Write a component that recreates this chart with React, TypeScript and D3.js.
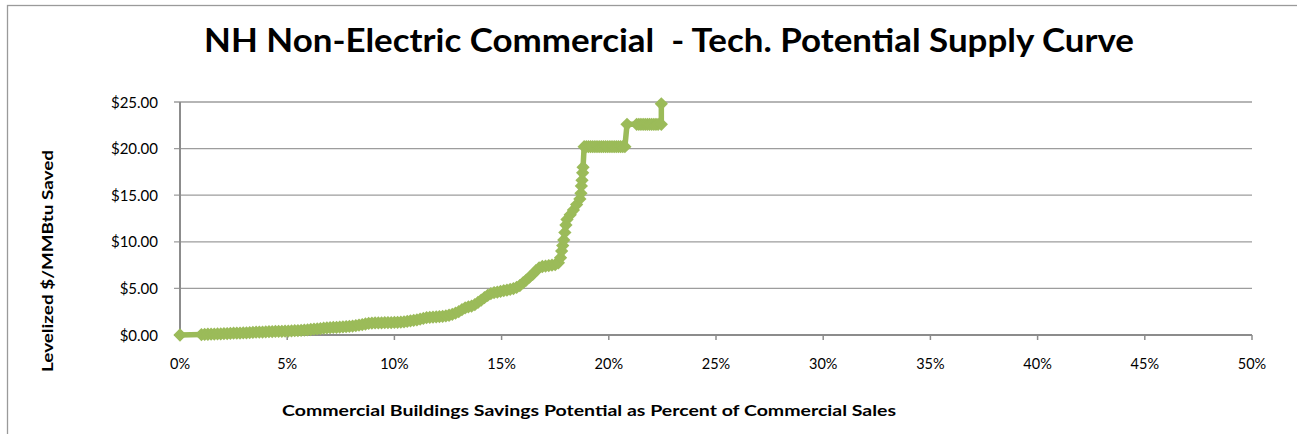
import React, { useEffect, useRef } from "react";
import * as d3 from "d3";

const TITLE = "NH Non-Electric Commercial  - Tech. Potential Supply Curve";
const Y_TITLE = "Levelized $/MMBtu Saved";
const X_TITLE = "Commercial Buildings Savings Potential as Percent of Commercial Sales";

const xTicks = [0, 5, 10, 15, 20, 25, 30, 35, 40, 45, 50];
const yTicks = [0, 5, 10, 15, 20, 25];

// savings potential (% of commercial sales)
const savingsPct = [
  0, 1.0, 1.15, 1.3, 1.45, 1.6, 1.75, 1.9, 2.05, 2.2, 2.35, 2.5, 2.65, 2.8, 2.95,
  3.1, 3.25, 3.4, 3.55, 3.7, 3.85, 4.0, 4.15, 4.3, 4.45, 4.6, 4.75, 4.9, 5.05,
  5.2, 5.35, 5.5, 5.65, 5.8, 5.95, 6.1, 6.25, 6.4, 6.55, 6.7, 6.85, 7.0, 7.15,
  7.3, 7.45, 7.6, 7.75, 7.9, 8.05, 8.2, 8.35, 8.5, 8.65, 8.8, 8.95, 9.1, 9.25,
  9.4, 9.55, 9.7, 9.85, 10.0, 10.15, 10.3, 10.45, 10.6, 10.75, 10.9, 11.05,
  11.2, 11.35, 11.5, 11.65, 11.8, 11.95, 12.1, 12.25, 12.4, 12.55, 12.7, 12.85,
  13.0, 13.15, 13.3, 13.45, 13.6, 13.75, 13.9, 14.05, 14.2, 14.35, 14.5, 14.65,
  14.8, 14.95, 15.1, 15.25, 15.4, 15.55, 15.7, 15.85, 16.0, 16.15, 16.3, 16.45,
  16.6, 16.75, 16.9, 17.05, 17.2, 17.35, 17.5, 17.65, 17.75, 17.8, 17.85, 17.9,
  17.95, 18.0, 18.05, 18.2, 18.35, 18.5, 18.65, 18.7, 18.72, 18.75, 18.78, 18.8,
  18.85, 18.95, 19.05, 19.15, 19.25, 19.35, 19.45, 19.55, 19.65, 19.75, 19.85,
  19.95, 20.05, 20.15, 20.25, 20.35, 20.45, 20.55, 20.65, 20.75, 20.85, 21.3,
  21.4, 21.5, 21.6, 21.7, 21.8, 21.9, 22.0, 22.1, 22.2, 22.3, 22.45, 22.45,
];

// levelized cost ($/MMBtu saved)
const levelizedCost = [
  0, 0.05, 0.06, 0.08, 0.09, 0.1, 0.11, 0.12, 0.14, 0.16, 0.17, 0.19, 0.2, 0.21,
  0.22, 0.24, 0.26, 0.28, 0.3, 0.31, 0.32, 0.34, 0.35, 0.37, 0.38, 0.39, 0.4,
  0.41, 0.42, 0.44, 0.46, 0.48, 0.5, 0.53, 0.56, 0.59, 0.62, 0.65, 0.69, 0.73,
  0.76, 0.79, 0.81, 0.83, 0.85, 0.88, 0.9, 0.93, 0.96, 1.0, 1.06, 1.12, 1.18,
  1.24, 1.28, 1.3, 1.3, 1.31, 1.32, 1.33, 1.34, 1.35, 1.36, 1.38, 1.42, 1.47,
  1.52, 1.57, 1.62, 1.7, 1.78, 1.86, 1.9, 1.93, 1.95, 1.98, 2.0, 2.05, 2.12,
  2.22, 2.35, 2.5, 2.72, 2.9, 3.02, 3.1, 3.25, 3.5, 3.75, 4.0, 4.25, 4.45, 4.55,
  4.6, 4.68, 4.75, 4.82, 4.9, 4.98, 5.1, 5.3, 5.6, 5.9, 6.2, 6.5, 6.9, 7.2,
  7.35, 7.4, 7.45, 7.5, 7.55, 7.75, 8.3, 9.0, 9.6, 10.2, 11.0, 11.8, 12.4, 12.9,
  13.4, 14.0, 14.6, 15.2, 16.0, 16.6, 17.4, 18.0, 20.2, 20.2, 20.2, 20.2, 20.2,
  20.2, 20.2, 20.2, 20.2, 20.2, 20.2, 20.2, 20.2, 20.2, 20.2, 20.2, 20.2, 20.2,
  20.2, 20.2, 22.6, 22.6, 22.6, 22.6, 22.6, 22.6, 22.6, 22.6, 22.6, 22.6, 22.6,
  22.6, 22.6, 24.8,
];

const W = 1297;
const H = 434;
const FONT = "'Gill Sans', 'Gill Sans MT', Lato, 'Open Sans', sans-serif";
const GREEN = "#9BBB59";

export default function App() {
  const ref = useRef<SVGSVGElement>(null);

  useEffect(() => {
    const svg = d3.select(ref.current);
    svg.selectAll("*").remove();

    const x = d3.scaleLinear().domain([0, 50]).range([180, 1252]);
    const y = d3.scaleLinear().domain([0, 25]).range([335, 102]);

    // frame
    svg.append("rect")
      .attr("x", 7.5).attr("y", 5.5).attr("width", W + 20).attr("height", H + 20)
      .attr("fill", "#fff").attr("stroke", "#9a9a9a").attr("stroke-width", 1.3);

    // gridlines
    svg.append("g").selectAll("line").data(yTicks.filter((d) => d > 0)).join("line")
      .attr("x1", 174).attr("x2", x(50))
      .attr("y1", (d) => y(d)).attr("y2", (d) => y(d))
      .attr("stroke", "#9d9d9d").attr("stroke-width", 1.3);

    // y axis line + zero tick
    svg.append("line").attr("x1", x(0)).attr("x2", x(0)).attr("y1", y(25)).attr("y2", y(0))
      .attr("stroke", "#8c8c8c").attr("stroke-width", 2);
    svg.append("line").attr("x1", 174).attr("x2", x(0)).attr("y1", y(0)).attr("y2", y(0))
      .attr("stroke", "#8c8c8c").attr("stroke-width", 2);

    // x axis
    svg.append("line").attr("x1", x(0)).attr("x2", x(50)).attr("y1", y(0)).attr("y2", y(0))
      .attr("stroke", "#8c8c8c").attr("stroke-width", 2);
    svg.append("g").selectAll("line").data(xTicks).join("line")
      .attr("x1", (d) => x(d)).attr("x2", (d) => x(d))
      .attr("y1", y(0)).attr("y2", y(0) + 5)
      .attr("stroke", "#8c8c8c").attr("stroke-width", 1.5);

    // tick labels
    svg.append("g").selectAll("text").data(xTicks).join("text")
      .attr("x", (d) => x(d)).attr("y", 369)
      .attr("text-anchor", "middle")
      .attr("font-family", FONT).attr("font-size", 14.5).attr("fill", "#000")
      .text((d) => `${d}%`);
    svg.append("g").selectAll("text").data(yTicks).join("text")
      .attr("x", 158).attr("y", (d) => y(d) + 5.5)
      .attr("text-anchor", "end")
      .attr("font-family", FONT).attr("font-size", 15).attr("fill", "#000")
      .text((d) => `$${d.toFixed(2)}`);

    // series
    const pts: [number, number][] = savingsPct.map((p, i) => [p, levelizedCost[i]]);
    const line = d3.line<[number, number]>().x((d) => x(d[0])).y((d) => y(d[1]));
    svg.append("path").datum(pts).attr("d", line)
      .attr("fill", "none").attr("stroke", GREEN).attr("stroke-width", 5.5)
      .attr("stroke-linejoin", "round");
    svg.append("g").selectAll("path").data(pts).join("path")
      .attr("transform", (d) => `translate(${x(d[0])},${y(d[1])}) rotate(45)`)
      .attr("d", d3.symbol().type(d3.symbolSquare).size(88)())
      .attr("fill", GREEN);

    // titles
    svg.append("text").attr("x", 669).attr("y", 52).attr("text-anchor", "middle")
      .style("white-space", "pre")
      .attr("textLength", 930).attr("lengthAdjust", "spacingAndGlyphs")
      .attr("font-family", FONT).attr("font-weight", "bold").attr("font-size", 32)
      .attr("fill", "#000").text(TITLE);
    svg.append("text").attr("transform", `translate(53,261) rotate(-90)`)
      .attr("text-anchor", "middle")
      .attr("textLength", 222).attr("lengthAdjust", "spacingAndGlyphs")
      .attr("font-family", FONT).attr("font-weight", "bold").attr("font-size", 15)
      .attr("fill", "#000").text(Y_TITLE);
    svg.append("text").attr("x", 589).attr("y", 416).attr("text-anchor", "middle")
      .attr("textLength", 614).attr("lengthAdjust", "spacingAndGlyphs")
      .attr("font-family", FONT).attr("font-weight", "bold").attr("font-size", 15)
      .attr("fill", "#000").text(X_TITLE);
  }, []);

  return (
    <svg
      ref={ref}
      width={W}
      height={H}
      style={{ position: "absolute", left: 0, top: 0, display: "block" }}
    />
  );
}
